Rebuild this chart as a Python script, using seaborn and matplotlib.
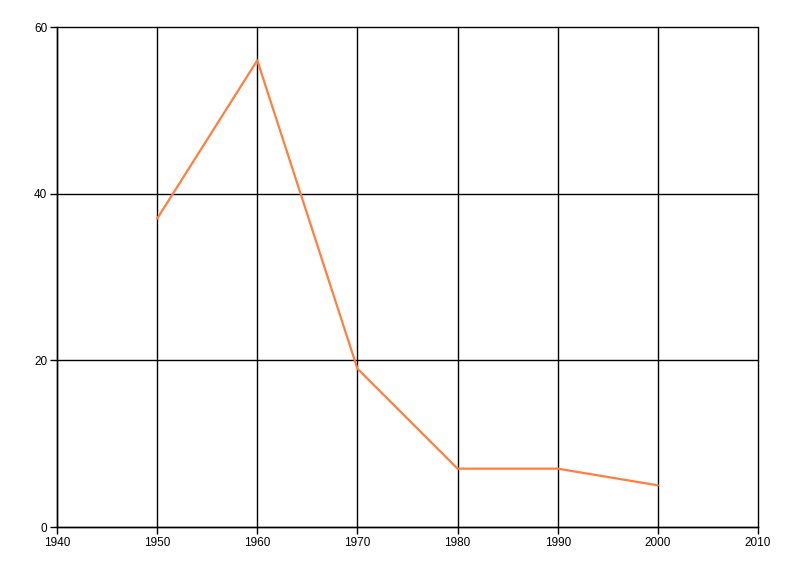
import matplotlib
matplotlib.use("Agg")
import matplotlib.pyplot as plt
import seaborn as sns
import pandas as pd

# --- data ---
years = [1950, 1960, 1970, 1980, 1990, 2000]
values = [37, 56, 19, 7, 7, 5]
x_ticks = [1940, 1950, 1960, 1970, 1980, 1990, 2000, 2010]
y_ticks = [0, 20, 40, 60]

df = pd.DataFrame({"Year": years, "Value": values})

sns.set_style("white")
plt.rcParams["font.family"] = ["Liberation Sans", "DejaVu Sans"]

fig = plt.figure(figsize=(8, 5.76), dpi=100)
ax = fig.add_axes([57 / 800, 49 / 576, 701 / 800, 500 / 576])

sns.lineplot(data=df, x="Year", y="Value", ax=ax, color="#FF7F3F", linewidth=1.6)

ax.set_xlim(1940, 2010)
ax.set_ylim(0, 60)
ax.set_xticks(x_ticks)
ax.set_yticks(y_ticks)
ax.grid(True, color="black", linewidth=1.0)
ax.set_axisbelow(True)

# keep the edge grid lines (2010, 60) fully drawn
for gl in ax.get_xgridlines() + ax.get_ygridlines():
    gl.set_clip_on(False)

for side in ["top", "right"]:
    ax.spines[side].set_visible(False)
for side in ["left", "bottom"]:
    ax.spines[side].set_color("black")
    ax.spines[side].set_linewidth(1.0)

ax.tick_params(axis="both", direction="out", length=5, width=1, color="black",
               labelsize=8.5, labelcolor="black", pad=2, left=True, bottom=True)
ax.set_xlabel("")
ax.set_ylabel("")

fig.savefig("out.png", dpi=100)
